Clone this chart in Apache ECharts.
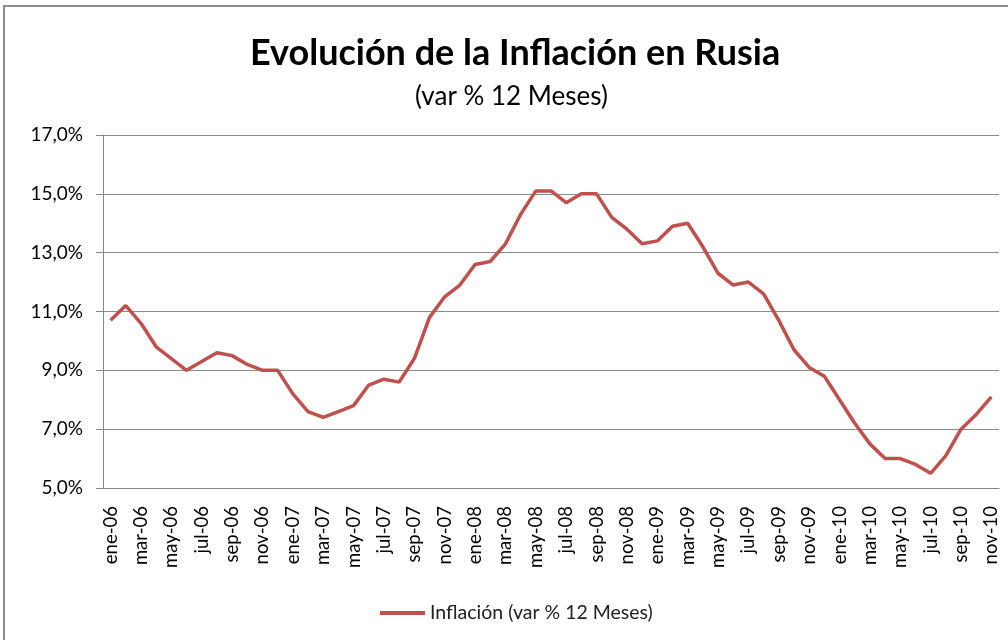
<!DOCTYPE html>
<html>
<head>
<meta charset="UTF-8">
<script src="https://cdn.jsdelivr.net/npm/echarts@6/dist/echarts.min.js"></script>
<style>
  html, body { margin: 0; padding: 0; background: #fff; }
  #frame { position: absolute; left: 3px; top: 5px; width: 1010px; height: 640px; border-left: 2px solid #8c8c8c; border-top: 2px solid #8c8c8c; }
  #chart { position: absolute; left: 0; top: 0; width: 1008px; height: 640px; }
</style>
</head>
<body>
<div id="frame"></div>
<div id="chart"></div>
<script type="text/javascript">
  // meses ene-06 .. nov-10
  var months = ['ene', 'feb', 'mar', 'abr', 'may', 'jun', 'jul', 'ago', 'sep', 'oct', 'nov', 'dic'];
  var years = ['06', '07', '08', '09', '10'];
  var categories = [];
  for (var y = 0; y < years.length; y++) {
    for (var m = 0; m < 12; m++) {
      if (y == 4 && m > 10) break;
      categories.push(months[m] + '-' + years[y]);
    }
  }

  var inflacion2006 = [10.7, 11.2, 10.6, 9.8, 9.4, 9.0, 9.3, 9.6, 9.5, 9.2, 9.0, 9.0];
  var inflacion2007 = [8.2, 7.6, 7.4, 7.6, 7.8, 8.5, 8.7, 8.6, 9.4, 10.8, 11.5, 11.9];
  var inflacion2008 = [12.6, 12.7, 13.3, 14.3, 15.1, 15.1, 14.7, 15.0, 15.0, 14.2, 13.8, 13.3];
  var inflacion2009 = [13.4, 13.9, 14.0, 13.2, 12.3, 11.9, 12.0, 11.6, 10.7, 9.7, 9.1, 8.8];
  var inflacion2010 = [8.0, 7.2, 6.5, 6.0, 6.0, 5.8, 5.5, 6.1, 7.0, 7.5, 8.1];
  var values = inflacion2006.concat(inflacion2007, inflacion2008, inflacion2009, inflacion2010);

  var yMin = 5, yMax = 17, yStep = 2;

  var fontName = 'Lato';

  var option = {
    animation: false,
    backgroundColor: 'transparent',
    title: [
      {
        text: 'Evolución de la Inflación en Rusia',
        left: 245,
        top: 30,
        textStyle: { fontFamily: fontName, fontWeight: 'bold', fontSize: 36, color: '#000' }
      },
      {
        text: '(var % 12 Meses)',
        left: 410,
        top: 79,
        textStyle: { fontFamily: fontName, fontWeight: 'normal', fontSize: 26, color: '#000' }
      }
    ],
    legend: {
      bottom: 12,
      left: 375,
      itemWidth: 45,
      itemHeight: 4,
      icon: 'rect',
      itemGap: 2,
      textStyle: { fontFamily: fontName, fontSize: 19.5, color: '#222' },
      data: ['Inflación (var % 12 Meses)']
    },
    grid: { left: 103, right: 9, top: 135, bottom: 152, containLabel: false },
    xAxis: {
      type: 'category',
      data: categories,
      boundaryGap: true,
      axisLine: { lineStyle: { color: '#888', width: 1 } },
      axisTick: { interval: 1, length: 6, lineStyle: { color: '#888' } },
      axisLabel: {
        interval: 1,
        rotate: 90,
        margin: 18,
        fontFamily: fontName,
        fontSize: 18.5,
        color: '#000'
      },
      splitLine: { show: false }
    },
    yAxis: {
      type: 'value',
      min: yMin,
      max: yMax,
      interval: yStep,
      axisLine: { show: true, lineStyle: { color: '#888', width: 1 } },
      axisTick: { show: true, length: 7, lineStyle: { color: '#888' } },
      axisLabel: {
        margin: 20,
        fontFamily: fontName,
        fontSize: 19,
        color: '#000',
        formatter: function (v) { return v.toFixed(1).replace('.', ',') + '%'; }
      },
      splitLine: { lineStyle: { color: '#8c8c8c', width: 1 } }
    },
    series: [
      {
        name: 'Inflación (var % 12 Meses)',
        type: 'line',
        data: values,
        symbol: 'none',
        smooth: false,
        itemStyle: { color: '#C0504D' },
        lineStyle: { color: '#C0504D', width: 3.5 }
      }
    ]
  };

  var myChart = echarts.init(document.getElementById('chart'));
  myChart.setOption(option);
</script>
</body>
</html>
